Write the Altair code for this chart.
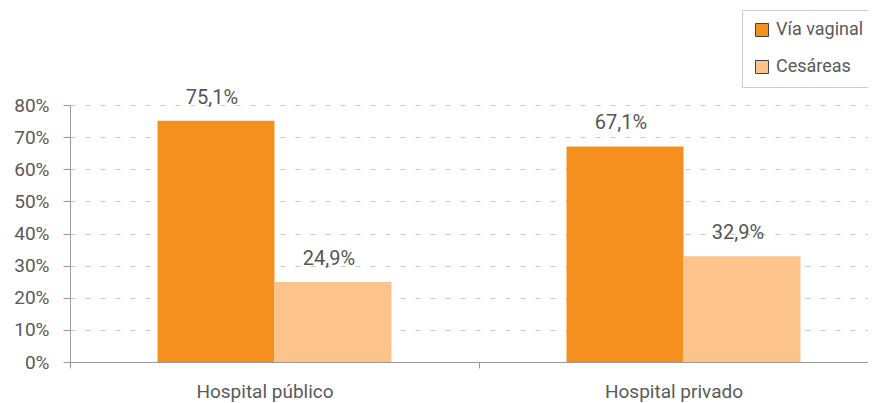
import altair as alt
import pandas as pd

hospitals = ["Hospital público", "Hospital privado"]
series = ["Vía vaginal", "Cesáreas"]
via_vaginal = [75.1, 67.1]
cesareas = [24.9, 32.9]
colors = ["#F5901F", "#FCC38A"]
y_ticks = [0, 10, 20, 30, 40, 50, 60, 70, 80]

rows = []
for i, h in enumerate(hospitals):
    for s, vals in zip(series, [via_vaginal, cesareas]):
        v = vals[i]
        rows.append({"hospital": h, "serie": s, "valor": v,
                     "etiqueta": f"{v:.1f}%".replace(".", ",")})
df = pd.DataFrame(rows)

FONT = "Roboto"

x = alt.X("hospital:N", sort=hospitals, title=None,
          scale=alt.Scale(paddingInner=0, paddingOuter=0, rangeMax=818),
          axis=alt.Axis(labelAngle=0, tickBand="extent", labelFontSize=19,
                        labelColor="#5a5a5a", labelFont=FONT, labelPadding=14,
                        labelOffset=-10,
                        tickSize=6, tickColor="#999999", domainColor="#999999",
                        grid=False))
xoff = alt.XOffset("serie:N", sort=series,
                   scale=alt.Scale(paddingInner=0, paddingOuter=0.748))
y = alt.Y("valor:Q", title=None,
          scale=alt.Scale(domain=[0, 80], nice=False),
          axis=alt.Axis(values=y_ticks, labelExpr="datum.value + '%'",
                        labelOverlap=False,
                        labelFontSize=19, labelColor="#5a5a5a", labelFont=FONT,
                        labelPadding=14, tickSize=7, tickColor="#999999",
                        domainColor="#999999", grid=True, gridColor="#c8c8c8",
                        gridDash=[5, 10]))

bars = alt.Chart(df).mark_bar().encode(
    x=x, xOffset=xoff, y=y,
    color=alt.Color("serie:N", sort=series,
                    scale=alt.Scale(domain=series, range=colors),
                    legend=alt.Legend(title=None, orient="none", legendX=672,
                                      legendY=-95, symbolType="square",
                                      symbolSize=169, symbolStrokeColor="#444444",
                                      symbolStrokeWidth=1, symbolOffset=0,
                                      labelFontSize=18,
                                      labelFont=FONT, labelColor="#5a5a5a",
                                      labelOffset=5, rowPadding=19, padding=11,
                                      strokeColor="#cccccc", fillColor="white")),
)

labels = alt.Chart(df).mark_text(baseline="alphabetic", dy=-17, dx=-4, fontSize=20,
                                 font=FONT, color="#555555").encode(
    x=x, xOffset=xoff, y=y, text="etiqueta:N")

chart = alt.layer(bars, labels).properties(
    width=798, height=257,
    autosize=alt.AutoSizeParams(type="none"),
    padding={"left": 62, "top": 97, "right": 0, "bottom": 42},
).configure_view(stroke=None)

chart.save("out.html", embed_options={"renderer": "svg", "actions": False})
